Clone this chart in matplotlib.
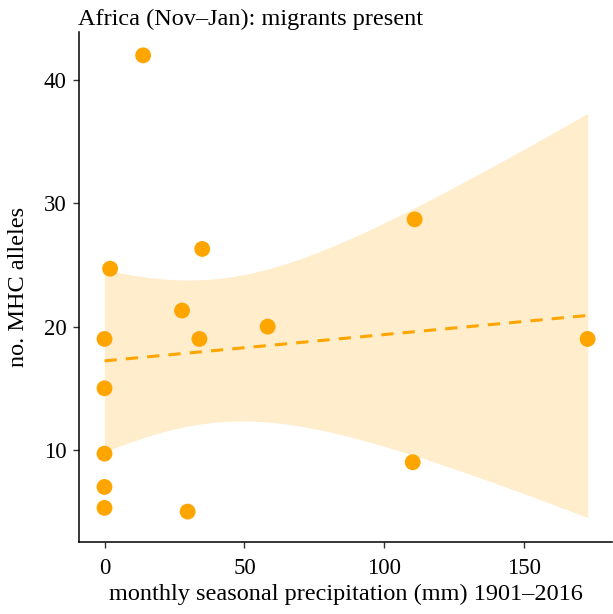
import numpy as np
import matplotlib
matplotlib.use("Agg")
import matplotlib.pyplot as plt

# values
precip = [13.8, 2.0, 0.0, 0.0, 0.0, 0.0, 0.0, 29.7, 27.7, 34.9, 33.9, 58.3, 110.8, 110.1, 172.6]
alleles = [42.0, 24.7, 19.0, 15.0, 9.7, 7.0, 5.3, 5.0, 21.3, 26.3, 19.0, 20.0, 28.7, 9.0, 19.0]

x = np.array(precip)
y = np.array(alleles)

# linear fit with 95% confidence band (t, df = n - 2 = 13)
n = len(x)
slope, intercept = np.polyfit(x, y, 1)
resid = y - (slope * x + intercept)
s = np.sqrt(np.sum(resid ** 2) / (n - 2))
t_val = 2.1604
xs = np.linspace(x.min(), x.max(), 200)
fit = slope * xs + intercept
se = s * np.sqrt(1 / n + (xs - x.mean()) ** 2 / np.sum((x - x.mean()) ** 2))
lo = fit - t_val * se
hi = fit + t_val * se

plt.rcParams['font.family'] = ['Liberation Serif', 'DejaVu Serif']

fig = plt.figure(figsize=(6.13, 6.14), dpi=100)
ax = fig.add_axes([0.1294, 0.1168, 0.8685, 0.8316])

ax.fill_between(xs, lo, hi, color='#FFA500', alpha=0.2, linewidth=0)
ax.plot(xs, fit, color='#FFA500', linestyle=(0, (4, 3)), linewidth=2.2)
ax.scatter(x, y, s=130, color='#FFA500', edgecolors='none', zorder=3)

ax.set_xlim(-9.0, 181.2)
ax.set_ylim(2.51, 43.92)
ax.set_xticks([0, 50, 100, 150])
ax.set_yticks([10, 20, 30, 40])

for side in ['top', 'right']:
    ax.spines[side].set_visible(False)
for side in ['left', 'bottom']:
    ax.spines[side].set_linewidth(1.1)
    ax.spines[side].set_color('black')
ax.tick_params(direction='out', length=4, width=1, color='#333333',
               labelsize=16.5, labelcolor='black')
ax.tick_params(axis='x', pad=7)
ax.tick_params(axis='y', pad=5)

ax.set_xlabel('monthly seasonal precipitation (mm) 1901–2016', fontsize=17.5, labelpad=4)
ax.set_ylabel('no. MHC alleles', fontsize=17.5, labelpad=11)
fig.text(0.1272, 0.9593, 'Africa (Nov–Jan): migrants present', fontsize=17.5,
         ha='left', va='baseline')

fig.savefig('out.png', dpi=100)
